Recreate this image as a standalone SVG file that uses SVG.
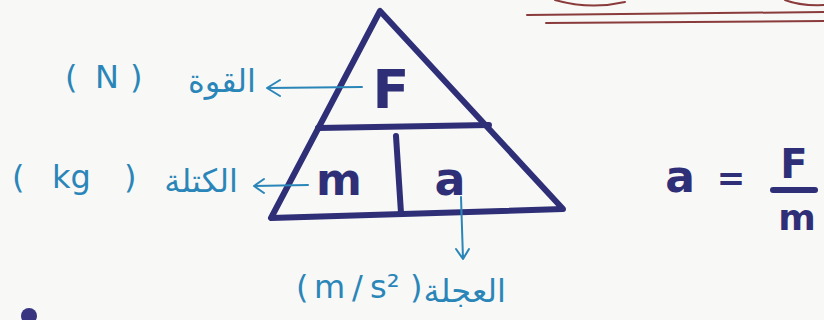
<svg xmlns="http://www.w3.org/2000/svg" width="824" height="320" viewBox="0 0 824 320">
<style>
.tri{fill:none;stroke:#2f2f78;stroke-width:6;stroke-linecap:round;stroke-linejoin:round}
.let{font-family:"DejaVu Sans",sans-serif;font-weight:bold;fill:#2f2f78}
.lab{font-family:"DejaVu Sans","Noto Sans",sans-serif;fill:#2a86b8;font-size:32px}
.conn{fill:none;stroke:#2a86b8;stroke-width:2;stroke-linecap:round;stroke-linejoin:round}
.deco{fill:none;stroke:#8a3c3c;stroke-width:2;stroke-linecap:round}
</style>
<rect width="824" height="320" fill="#f8f8f6"/>
<g id="decoration">
<path class="deco" d="M527 15 L824 12"/>
<path class="deco" d="M546 23 L824 21"/>
<path class="deco" d="M555 0 Q590 10 625 2"/>
<path class="deco" d="M785 0 Q800 6 824 5"/>
<circle cx="29" cy="316" r="8" fill="#3a3580"/>
</g>
<g id="triangle">
<path class="tri" d="M380 11 L271 218 L563 209 Z"/>
<path class="tri" d="M318 128 L489 125"/>
<path class="tri" d="M396 136 L401 213"/>
</g>
<g id="node-F"><text class="let" x="391" y="108" font-size="54" text-anchor="middle">F</text></g>
<g id="node-m"><text class="let" x="339" y="195" font-size="44" text-anchor="middle">m</text></g>
<g id="node-a"><text class="let" x="450" y="195" font-size="46" text-anchor="middle">a</text></g>
<g id="connectors">
<path class="conn" d="M362 87 L267 88 M280 80 L267 88 L280 96"/>
<path class="conn" d="M308 185 L254 186 M264 179 L254 186 L264 193"/>
<path class="conn" d="M461 197 L463 259 M456 249 L463 259 L469 249"/>
</g>
<g id="label-force">
<text class="lab" x="256" y="92" text-anchor="end">القوة</text>
<text class="lab" y="88"><tspan x="65">(</tspan><tspan x="95">N</tspan><tspan x="130">)</tspan></text>
</g>
<g id="label-mass">
<text class="lab" x="238" y="192" text-anchor="end">الكتلة</text>
<text class="lab" y="188"><tspan x="12">(</tspan><tspan x="52">kg</tspan><tspan x="124">)</tspan></text>
</g>
<g id="label-accel">
<text class="lab" x="506" y="302" text-anchor="end">العجلة</text>
<text class="lab" y="298"><tspan x="296">(</tspan><tspan x="314">m</tspan><tspan x="352">/</tspan><tspan x="370">s²</tspan><tspan x="410">)</tspan></text>
</g>
<g id="formula">
<text class="let" x="680" y="192" font-size="44" text-anchor="middle">a</text>
<text class="let" x="731" y="190" font-size="34" text-anchor="middle">=</text>
<text class="let" x="794" y="178" font-size="40" text-anchor="middle">F</text>
<path class="tri" d="M773 190 L815 190"/>
<text class="let" x="797" y="230" font-size="36" text-anchor="middle">m</text>
</g>
</svg>
